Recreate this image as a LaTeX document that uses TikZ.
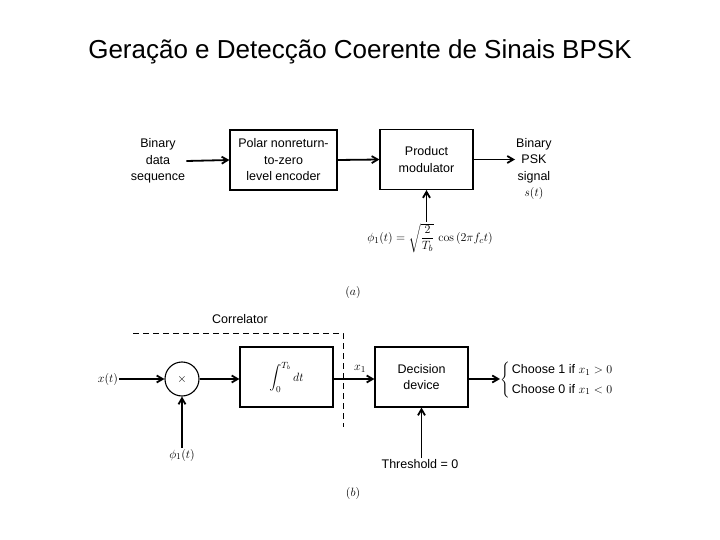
\documentclass[tikz,border=0pt]{standalone}
\usepackage{amsmath}
\usepackage[no-math]{fontspec}
\setmainfont{Liberation Sans}
\usetikzlibrary{arrows.meta, positioning, calc}

\begin{document}
\begin{tikzpicture}[
    x=1pt, y=-1pt,
    >={Straight Barb[length=6pt, width=7pt]},
    font=\fontsize{12.5}{16.5}\selectfont,
    block/.style={draw, line width=1.1pt, rectangle, align=center,
                  minimum width=93pt, minimum height=60pt},
    mixer/.style={draw, line width=1.1pt, circle, minimum size=34pt, inner sep=0pt},
    sig/.style={->, line width=1.8pt},
    txt/.style={align=center, inner sep=1pt},
    corr/.style={dashed, line width=0.8pt, dash pattern=on 6pt off 4pt},
]
\useasboundingbox (0,0) rectangle (720,540);

% ============================================================
% Title
% ============================================================
\node[anchor=base, font=\fontsize{26}{30}\selectfont] (title) at (360,59)
    {Geração e Detecção Coerente de Sinais BPSK};

% ============================================================
% (a) BPSK transmitter
% ============================================================
\node[txt] (bits) at (158,161) {Binary\\data\\sequence};
\node[block, minimum width=107pt] (nrz) at (283.5,160)
    {Polar nonreturn-\\to-zero\\level encoder};
\node[block] (prod) at (426.5,159.5) {Product\\modulator};
\node[txt, anchor=west] (psk) at (515,169) {Binary\\PSK\\signal\\$s(t)$};
\node (carrier) at (430,238)
    {$\phi_1(t)=\sqrt{\dfrac{2}{T_b}}\,\cos\,(2\pi f_c t)$};
\node (capa) at (353,292) {$(a)$};

\draw[sig] (bits.east) -- (nrz.west);
\draw[sig] (nrz.east) -- (prod.west);
\draw[sig] (prod.east) -- (prod.east -| psk.west);
\draw[sig] (prod.south |- 0,222) -- (prod.south);

% ============================================================
% (b) Coherent BPSK receiver
% ============================================================
\node[txt] (xin) at (108,379) {$x(t)$};
\node[mixer] (mult) at (182,379) {$\times$};
\node[txt] (phi) at (182,455) {$\phi_1(t)$};
\node[block] (integ) at (286.5,377) {$\displaystyle\int_0^{T_b} dt$};
\node[block] (dec) at (421.5,377) {Decision\\device};
\node[txt] (thr) at (420,464) {Threshold = 0};
\node[anchor=west, inner sep=0pt] (choice) at (500,380)
    {$\left\{\begin{tabular}{@{\,}l@{}}
     Choose 1 if $x_1>0$\\[3pt]
     Choose 0 if $x_1<0$
     \end{tabular}\right.$};
\node (capb) at (353,493) {$(b)$};

\draw[sig] (xin.east) -- (mult.west);
\draw[sig] (phi.north) -- (mult.south);
\draw[sig] (mult.east) -- (mult.east -| integ.west);
\draw[sig] (integ.east |- mult.east) -- (dec.west |- mult.east)
    node[pos=0.65, above=2pt] {$x_1$};
\draw[sig] (dec.east |- mult.east) -- (choice.west |- mult.east);
\draw[sig] (dec.south |- thr.north) -- (dec.south);

% Correlator boundary
\coordinate (cl) at (133,333);
\coordinate (cr) at (343,427);
\draw[corr] (cl) -| (cr);
\node (corrlbl) at (240,319) {Correlator};

\end{tikzpicture}
\end{document}
